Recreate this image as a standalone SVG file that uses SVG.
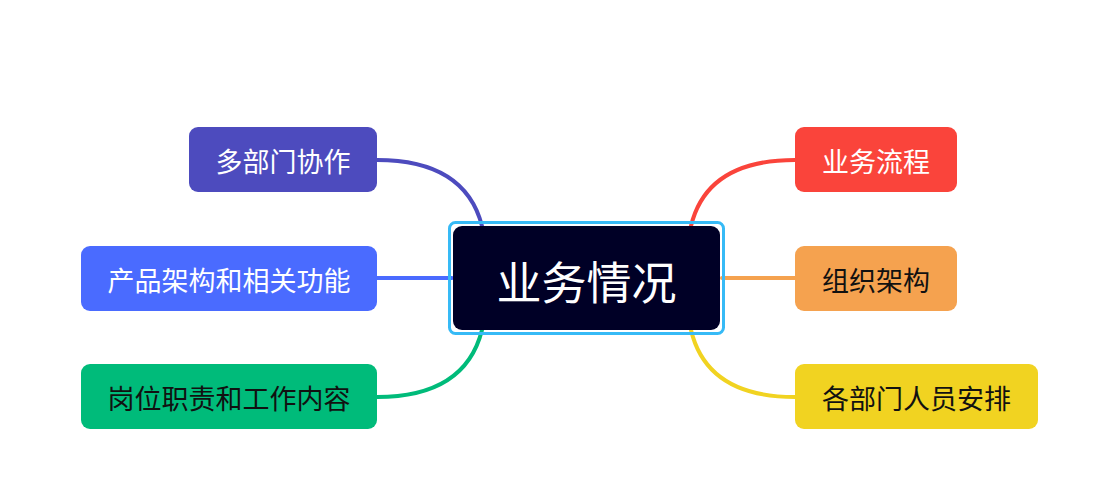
<svg xmlns="http://www.w3.org/2000/svg" width="1113" height="492" viewBox="0 0 1113 492">
<style>
text{font-family:"Noto Sans CJK SC","Noto Sans",sans-serif;text-anchor:middle;dominant-baseline:central}
.t{font-size:27px}
.w{fill:#ffffff}
.k{fill:#111111}
.c{fill:none;stroke-width:4;stroke-linecap:round}
</style>
<rect width="1113" height="492" fill="#ffffff"/>
<g id="connectors">
<path class="c" stroke="#4d4bbe" d="M377,160 Q465,160 482,226"/>
<path class="c" stroke="#4a6bff" d="M377,278 L452,278"/>
<path class="c" stroke="#00bb7a" d="M377,397 Q465,397 482,330"/>
<path class="c" stroke="#fa443b" d="M795,160 Q707,160 691,226"/>
<path class="c" stroke="#f5a24f" d="M722,278 L795,278"/>
<path class="c" stroke="#f1d321" d="M795,397 Q707,397 691,330"/>
</g>
<g id="center">
<rect x="449.5" y="222.5" width="274" height="111" rx="6" fill="none" stroke="#36baf6" stroke-width="3"/>
<rect x="453" y="226" width="267" height="104" rx="9" fill="#000026"/>
<text x="586.5" y="280" font-size="45" class="w">业务情况</text>
</g>
<g id="n1">
<rect x="795" y="127" width="162" height="65" rx="9" fill="#fa443b"/>
<text x="876" y="160" class="t w">业务流程</text>
</g>
<g id="n2">
<rect x="795" y="246" width="162" height="65" rx="9" fill="#f5a24f"/>
<text x="876" y="279" class="t k">组织架构</text>
</g>
<g id="n3">
<rect x="795" y="364" width="243" height="65" rx="9" fill="#f1d321"/>
<text x="916.5" y="397" class="t k">各部门人员安排</text>
</g>
<g id="n4">
<rect x="189" y="127" width="188" height="65" rx="9" fill="#4d4bbe"/>
<text x="283" y="160" class="t w">多部门协作</text>
</g>
<g id="n5">
<rect x="81" y="246" width="296" height="65" rx="9" fill="#4a6bff"/>
<text x="229" y="279" class="t w">产品架构和相关功能</text>
</g>
<g id="n6">
<rect x="81" y="364" width="296" height="65" rx="9" fill="#00bb7a"/>
<text x="229" y="397" class="t k">岗位职责和工作内容</text>
</g>
</svg>
